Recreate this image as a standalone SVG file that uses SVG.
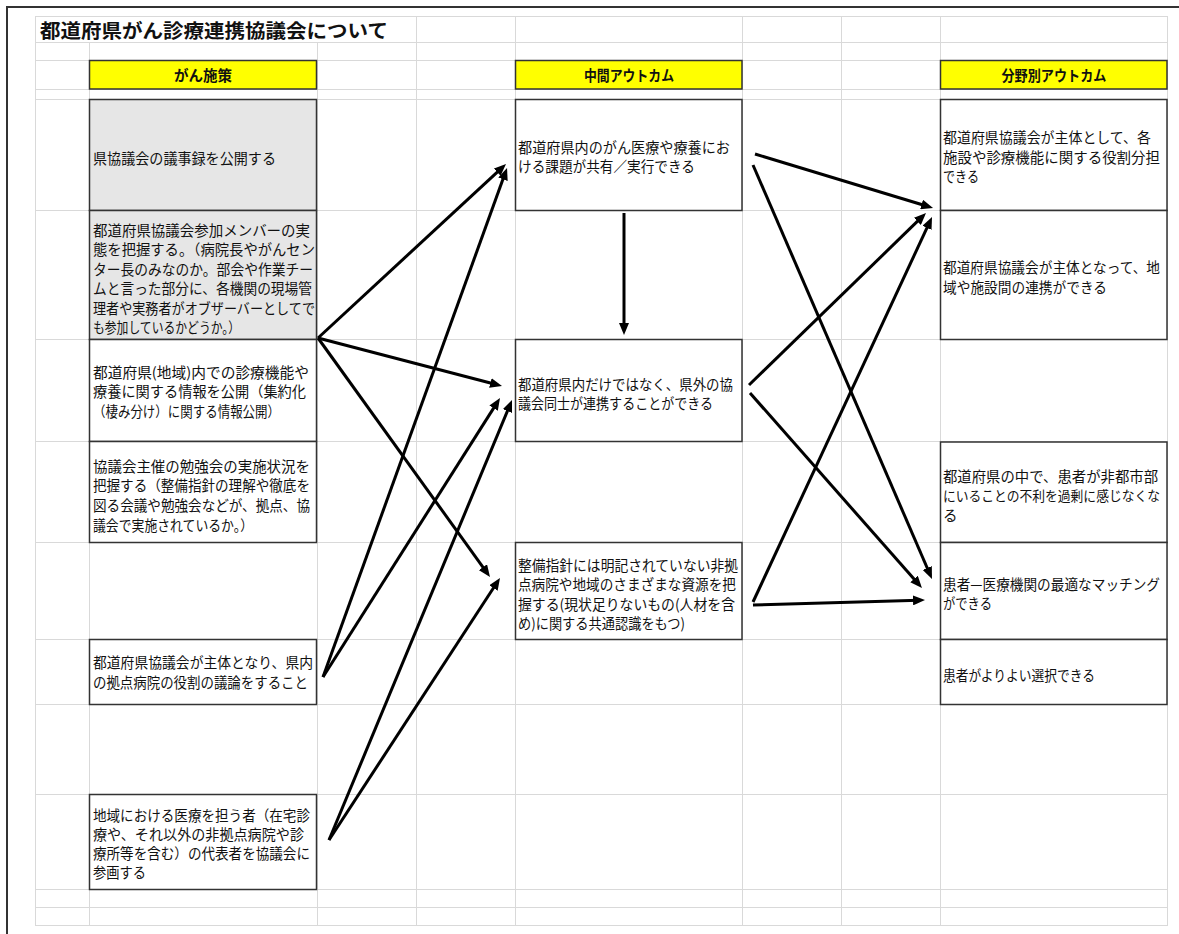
<svg xmlns="http://www.w3.org/2000/svg" width="1179" height="934" viewBox="0 0 1179 934">
<style>
.t{font-family:"Noto Sans CJK JP","Noto Sans CJK SC",sans-serif;font-size:14.5px;fill:#111}
.h{font-weight:700;text-anchor:middle}
.ttl{font-size:19.5px;font-weight:700}
.box{stroke:#333;stroke-width:1.5;fill:#fff}
.gray{fill:#e6e6e6}
.hdr{fill:#ffff00}
.grid line{stroke:#d9d9d9;stroke-width:1}
.arr{stroke:#000;stroke-width:3;fill:none;marker-end:url(#ah)}
</style>
<defs>
<marker id="ah" markerUnits="userSpaceOnUse" markerWidth="12" markerHeight="10" refX="6" refY="5" orient="auto">
<path d="M0,0 L12,5 L0,10 z" fill="#000"/>
</marker>
</defs>
<rect width="1179" height="934" fill="#fff"/>
<g class="grid">
<line x1="35" y1="16.5" x2="1167" y2="16.5"/>
<line x1="35" y1="42.5" x2="1167" y2="42.5"/>
<line x1="35" y1="60.5" x2="1167" y2="60.5"/>
<line x1="35" y1="89.5" x2="1167" y2="89.5"/>
<line x1="35" y1="99.5" x2="1167" y2="99.5"/>
<line x1="35" y1="210.5" x2="1167" y2="210.5"/>
<line x1="35" y1="339.5" x2="1167" y2="339.5"/>
<line x1="35" y1="441.5" x2="1167" y2="441.5"/>
<line x1="35" y1="542.5" x2="1167" y2="542.5"/>
<line x1="35" y1="639.5" x2="1167" y2="639.5"/>
<line x1="35" y1="704.5" x2="1167" y2="704.5"/>
<line x1="35" y1="794.5" x2="1167" y2="794.5"/>
<line x1="35" y1="889.5" x2="1167" y2="889.5"/>
<line x1="35" y1="907.5" x2="1167" y2="907.5"/>
<line x1="35" y1="925.5" x2="1167" y2="925.5"/>
<line x1="35.5" y1="16" x2="35.5" y2="926"/>
<line x1="89.5" y1="42" x2="89.5" y2="926"/>
<line x1="317.5" y1="42" x2="317.5" y2="926"/>
<line x1="416.5" y1="16" x2="416.5" y2="926"/>
<line x1="515.5" y1="16" x2="515.5" y2="926"/>
<line x1="742.5" y1="16" x2="742.5" y2="926"/>
<line x1="841.5" y1="16" x2="841.5" y2="926"/>
<line x1="940.5" y1="16" x2="940.5" y2="926"/>
<line x1="1167.5" y1="16" x2="1167.5" y2="926"/>
</g>
<path d="M7,934 V7 H1179" fill="none" stroke="#333" stroke-width="2"/>
<text class="t ttl" x="40" y="38" textLength="348" lengthAdjust="spacingAndGlyphs">都道府県がん診療連携協議会について</text>

<g id="hdr-policy"><rect class="box hdr" x="89.5" y="60.5" width="227" height="28.5"/><text class="t h" x="203" y="81">がん施策</text></g>
<g id="hdr-mid"><rect class="box hdr" x="515.5" y="60.5" width="226.5" height="28.5"/><text class="t h" x="629" y="81" textLength="90" lengthAdjust="spacingAndGlyphs">中間アウトカム</text></g>
<g id="hdr-field"><rect class="box hdr" x="940.5" y="60.5" width="226.5" height="28.5"/><text class="t h" x="1054" y="81" textLength="105" lengthAdjust="spacingAndGlyphs">分野別アウトカム</text></g>

<g id="p1"><rect class="box gray" x="89.5" y="99.5" width="227" height="111"/>
<text class="t" x="93" y="163.5" textLength="183" lengthAdjust="spacingAndGlyphs">県協議会の議事録を公開する</text></g>
<g id="p2"><rect class="box gray" x="89.5" y="210.5" width="227" height="129"/>
<text class="t" x="93" y="235.5" textLength="217" lengthAdjust="spacingAndGlyphs">都道府県協議会参加メンバーの実</text>
<text class="t" x="93" y="255" textLength="222" lengthAdjust="spacingAndGlyphs">態を把握する。（病院長やがんセン</text>
<text class="t" x="93" y="274.5" textLength="220" lengthAdjust="spacingAndGlyphs">ター長のみなのか。部会や作業チー</text>
<text class="t" x="93" y="294" textLength="219" lengthAdjust="spacingAndGlyphs">ムと言った部分に、各機関の現場管</text>
<text class="t" x="93" y="313.5" textLength="222" lengthAdjust="spacingAndGlyphs">理者や実務者がオブザーバーとしてで</text>
<text class="t" x="93" y="333" textLength="147" lengthAdjust="spacingAndGlyphs">も参加しているかどうか。）</text></g>
<g id="p3"><rect class="box" x="89.5" y="339.5" width="227" height="102"/>
<text class="t" x="93" y="377.5" textLength="216" lengthAdjust="spacingAndGlyphs">都道府県(地域)内での診療機能や</text>
<text class="t" x="93" y="397" textLength="213" lengthAdjust="spacingAndGlyphs">療養に関する情報を公開（集約化</text>
<text class="t" x="93" y="416.5" textLength="187" lengthAdjust="spacingAndGlyphs">（棲み分け）に関する情報公開）</text></g>
<g id="p4"><rect class="box" x="89.5" y="441.5" width="227" height="101"/>
<text class="t" x="93" y="471.5" textLength="217" lengthAdjust="spacingAndGlyphs">協議会主催の勉強会の実施状況を</text>
<text class="t" x="93" y="491" textLength="217" lengthAdjust="spacingAndGlyphs">把握する（整備指針の理解や徹底を</text>
<text class="t" x="93" y="510.5" textLength="217" lengthAdjust="spacingAndGlyphs">図る会議や勉強会などが、拠点、協</text>
<text class="t" x="93" y="530.5" textLength="160" lengthAdjust="spacingAndGlyphs">議会で実施されているか。）</text></g>
<g id="p5"><rect class="box" x="89.5" y="639.5" width="227" height="65"/>
<text class="t" x="93" y="668" textLength="220" lengthAdjust="spacingAndGlyphs">都道府県協議会が主体となり、県内</text>
<text class="t" x="93" y="688" textLength="215" lengthAdjust="spacingAndGlyphs">の拠点病院の役割の議論をすること</text></g>
<g id="p6"><rect class="box" x="89.5" y="794.5" width="227" height="95"/>
<text class="t" x="93" y="820.5" textLength="217" lengthAdjust="spacingAndGlyphs">地域における医療を担う者（在宅診</text>
<text class="t" x="93" y="839.5" textLength="211" lengthAdjust="spacingAndGlyphs">療や、それ以外の非拠点病院や診</text>
<text class="t" x="93" y="858.5" textLength="217" lengthAdjust="spacingAndGlyphs">療所等を含む）の代表者を協議会に</text>
<text class="t" x="93" y="877.5" textLength="53" lengthAdjust="spacingAndGlyphs">参画する</text></g>

<g id="m1"><rect class="box" x="515.5" y="99.5" width="226.5" height="111"/>
<text class="t" x="518" y="152.5" textLength="212" lengthAdjust="spacingAndGlyphs">都道府県内のがん医療や療養にお</text>
<text class="t" x="518" y="172" textLength="177" lengthAdjust="spacingAndGlyphs">ける課題が共有／実行できる</text></g>
<g id="m2"><rect class="box" x="515.5" y="339.5" width="226.5" height="102"/>
<text class="t" x="518" y="389.5" textLength="215" lengthAdjust="spacingAndGlyphs">都道府県内だけではなく、県外の協</text>
<text class="t" x="518" y="409" textLength="195" lengthAdjust="spacingAndGlyphs">議会同士が連携することができる</text></g>
<g id="m3"><rect class="box" x="515.5" y="542.5" width="226.5" height="97"/>
<text class="t" x="518" y="570.5" textLength="220" lengthAdjust="spacingAndGlyphs">整備指針には明記されていない非拠</text>
<text class="t" x="518" y="590" textLength="218" lengthAdjust="spacingAndGlyphs">点病院や地域のさまざまな資源を把</text>
<text class="t" x="518" y="609.5" textLength="217" lengthAdjust="spacingAndGlyphs">握する(現状足りないもの(人材を含</text>
<text class="t" x="518" y="628.5" textLength="167" lengthAdjust="spacingAndGlyphs">め)に関する共通認識をもつ)</text></g>

<g id="r1"><rect class="box" x="940.5" y="99.5" width="226.5" height="111"/>
<text class="t" x="943" y="143" textLength="208" lengthAdjust="spacingAndGlyphs">都道府県協議会が主体として、各</text>
<text class="t" x="943" y="162.5" textLength="217" lengthAdjust="spacingAndGlyphs">施設や診療機能に関する役割分担</text>
<text class="t" x="943" y="182" textLength="36" lengthAdjust="spacingAndGlyphs">できる</text></g>
<g id="r2"><rect class="box" x="940.5" y="210.5" width="226.5" height="129"/>
<text class="t" x="943" y="273" textLength="217" lengthAdjust="spacingAndGlyphs">都道府県協議会が主体となって、地</text>
<text class="t" x="943" y="292.5" textLength="164" lengthAdjust="spacingAndGlyphs">域や施設間の連携ができる</text></g>
<g id="r3"><rect class="box" x="940.5" y="442" width="226.5" height="100.5"/>
<text class="t" x="943" y="481.5" textLength="215" lengthAdjust="spacingAndGlyphs">都道府県の中で、患者が非都市部</text>
<text class="t" x="943" y="501" textLength="217" lengthAdjust="spacingAndGlyphs" style="font-size:13.5px">にいることの不利を過剰に感じなくな</text>
<text class="t" x="943" y="520.5">る</text></g>
<g id="r4"><rect class="box" x="940.5" y="542.5" width="226.5" height="97"/>
<text class="t" x="943" y="589.5" textLength="217" lengthAdjust="spacingAndGlyphs">患者—医療機関の最適なマッチング</text>
<text class="t" x="943" y="609" textLength="49" lengthAdjust="spacingAndGlyphs">ができる</text></g>
<g id="r5"><rect class="box" x="940.5" y="639.5" width="226.5" height="65"/>
<text class="t" x="943" y="680.5" textLength="152" lengthAdjust="spacingAndGlyphs">患者がよりよい選択できる</text></g>

<g id="connectors">
<line class="arr" x1="318" y1="338" x2="501.6" y2="168.1"/>
<line class="arr" x1="318" y1="338" x2="496.2" y2="384.5"/>
<line class="arr" x1="318" y1="338" x2="486.5" y2="572.1"/>
<line class="arr" x1="323" y1="677" x2="505" y2="173.6"/>
<line class="arr" x1="323" y1="677" x2="496.8" y2="403.1"/>
<line class="arr" x1="329" y1="840" x2="509.7" y2="405.5"/>
<line class="arr" x1="329" y1="840" x2="496.7" y2="583"/>
<line class="arr" x1="624" y1="213" x2="624" y2="329"/>
<line class="arr" x1="755" y1="154" x2="927.3" y2="206.3"/>
<line class="arr" x1="753" y1="165" x2="929.6" y2="573.5"/>
<line class="arr" x1="749" y1="385" x2="921.7" y2="217.2"/>
<line class="arr" x1="750" y1="393" x2="918" y2="583.5"/>
<line class="arr" x1="753" y1="602" x2="929.5" y2="222.4"/>
<line class="arr" x1="753" y1="605" x2="919" y2="600.2"/>
</g>
</svg>
